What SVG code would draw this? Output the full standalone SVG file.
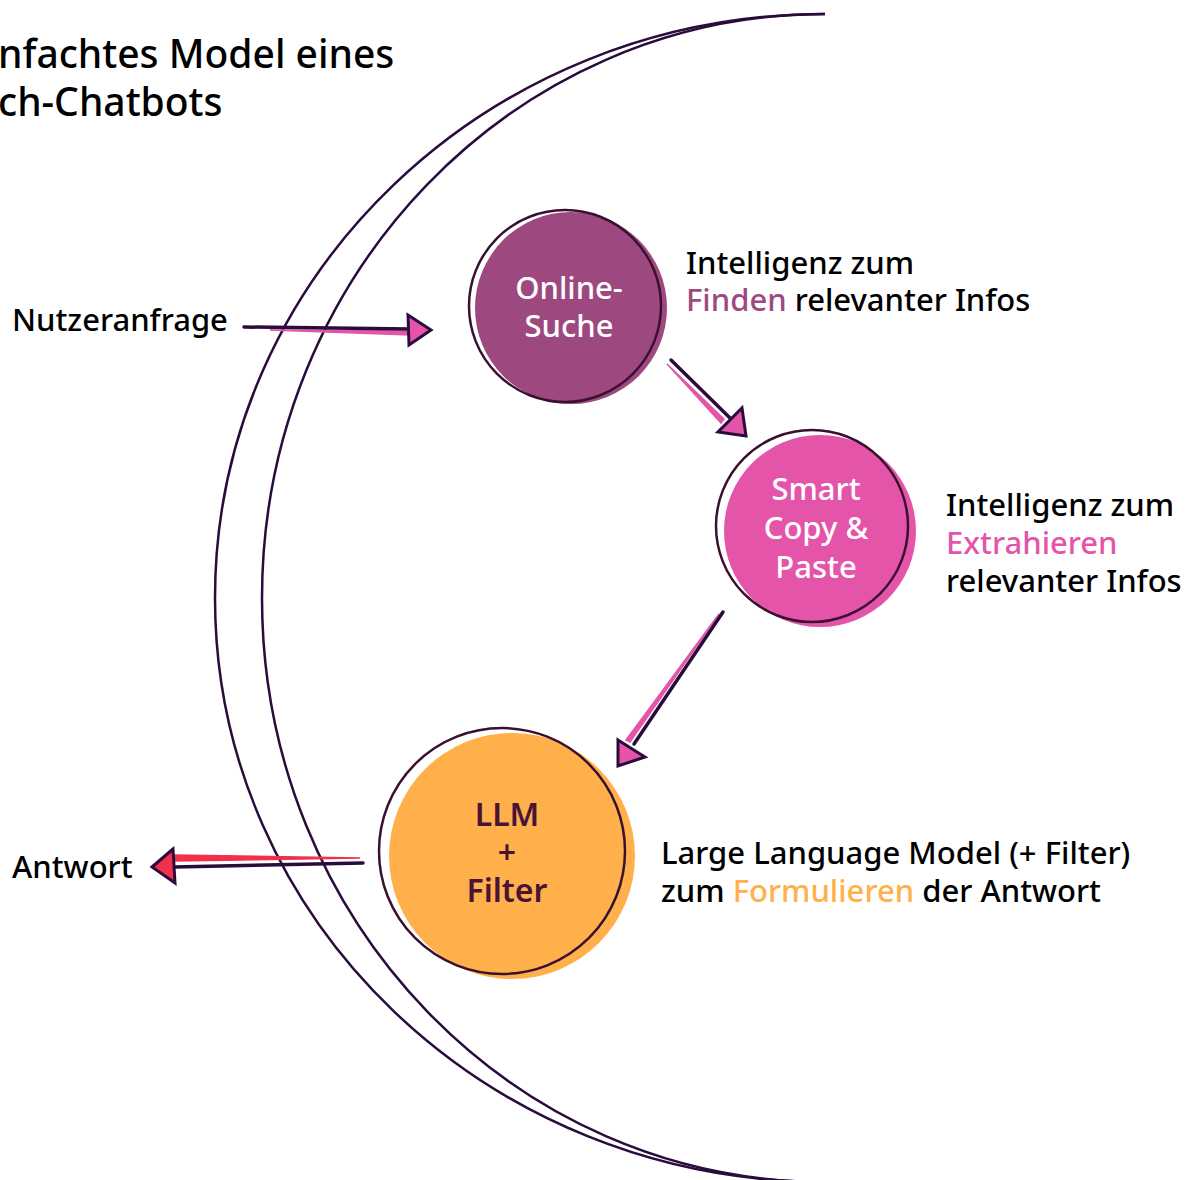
<svg xmlns="http://www.w3.org/2000/svg" width="1194" height="1180" viewBox="0 0 1194 1180">
<style>
  text { font-family: "Noto Sans", "Open Sans", sans-serif; font-weight: 500; }
  .title { font-size: 39px; fill: #000; }
  .lbl { font-size: 31px; fill: #000; }
  .node { font-size: 31px; text-anchor: middle; }
  .w { fill: #ffffff; }
  .d { fill: #4a1436; font-weight: 600; font-size: 32px; }
  .c1 { fill: #9E4880; }
  .c2 { fill: #E455AA; }
  .c3 { fill: #FFB04A; }
  .ring { fill: none; stroke: #3a1030; stroke-width: 2.5; }
  .arc { fill: none; stroke: #2a0c3c; stroke-width: 2.5; }
  .shaft { fill: none; stroke: #2a0c3c; stroke-width: 3.5; stroke-linecap: round; }
  .head { stroke: #2a0c3c; stroke-width: 3; stroke-linejoin: miter; }
  .pk { fill: #E455AA; }
  .rd { fill: #F0304C; }
</style>

<g id="title">
  <text class="title" x="-2" y="68">nfachtes Model eines</text>
  <text class="title" x="-2" y="116">ch-Chatbots</text>
</g>

<g id="crescent">
  <path class="arc" d="M825,14 C488,14 215,275 215,598 C215,921 488,1182 825,1182"/>
  <path class="arc" d="M825,14 C514,14 262,275 262,598 C262,921 514,1182 825,1182"/>
</g>

<g id="node-online">
  <circle cx="571" cy="308" r="96" class="c1"/>
  <circle class="ring" cx="565" cy="306" r="96"/>
  <text class="node w" x="569" y="299">Online-</text>
  <text class="node w" x="569" y="337">Suche</text>
</g>

<g id="node-copy">
  <circle cx="820" cy="531" r="96" class="c2"/>
  <circle class="ring" cx="812" cy="526" r="96"/>
  <text class="node w" x="816" y="500">Smart</text>
  <text class="node w" x="816" y="539">Copy &amp;</text>
  <text class="node w" x="816" y="578">Paste</text>
</g>

<g id="node-llm">
  <circle cx="512" cy="856" r="123" class="c3"/>
  <circle class="ring" cx="502" cy="851" r="123"/>
  <text class="node d" x="507" y="826">LLM</text>
  <text class="node d" x="507" y="864">+</text>
  <text class="node d" x="507" y="902">Filter</text>
</g>

<g id="label-online">
  <text class="lbl" x="686" y="274">Intelligenz zum</text>
  <text class="lbl" x="686" y="311"><tspan class="c1">Finden</tspan> relevanter Infos</text>
</g>
<g id="label-copy">
  <text class="lbl" x="946" y="516">Intelligenz zum</text>
  <text class="lbl" x="946" y="554"><tspan class="c2">Extrahieren</tspan></text>
  <text class="lbl" x="946" y="592">relevanter Infos</text>
</g>
<g id="label-llm">
  <text class="lbl" x="661" y="864">Large Language Model (+ Filter)</text>
  <text class="lbl" x="661" y="902">zum <tspan class="c3">Formulieren</tspan> der Antwort</text>
</g>
<g id="label-in">
  <text class="lbl" x="12" y="331">Nutzeranfrage</text>
</g>
<g id="label-out">
  <text class="lbl" x="12" y="878">Antwort</text>
</g>

<g id="connectors">
  <!-- Nutzeranfrage -> Online-Suche -->
  <path d="M270,330 L410,331 L410,335 Z" fill="#E455AA" stroke="#E455AA" stroke-width="1.5"/>
  <path class="shaft" d="M244,327 L410,329"/>
  <path class="head pk" d="M408,315 L431,330 L409,345 Z"/>
  <!-- Online-Suche -> Smart Copy -->
  <path d="M667,364 L724,419 L721,423 Z" fill="#E455AA" stroke="#E455AA" stroke-width="1.5"/>
  <path class="shaft" d="M671,360 L730,418"/>
  <path class="head pk" d="M742,408 L746,436 L718,432 Z"/>
  <!-- Smart Copy -> LLM -->
  <path d="M719,614 L630,742 L626,740 Z" fill="#E455AA" stroke="#E455AA" stroke-width="1.5"/>
  <path class="shaft" d="M723,612 L634,744"/>
  <path class="head pk" d="M618,740 L645,757 L618,766 Z"/>
  <!-- LLM -> Antwort -->
  <path d="M360,858 L174,855 L174,861 Z" fill="#F0304C" stroke="#F0304C" stroke-width="1.5"/>
  <path class="shaft" d="M363,863 L174,867"/>
  <path class="head rd" d="M173,849 L152,867 L175,883 Z"/>
</g>
</svg>
